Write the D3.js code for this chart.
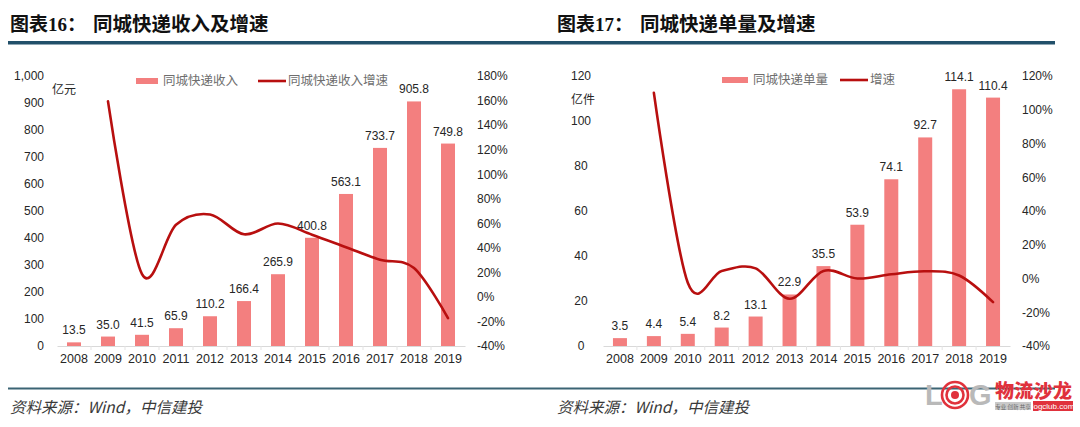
<!DOCTYPE html>
<html><head><meta charset="utf-8">
<script src="https://cdn.jsdelivr.net/npm/d3@7"></script>
<style>
html,body{margin:0;padding:0;background:#fff;}
svg{display:block;}
</style></head>
<body>
<svg id="c" width="1080" height="427"></svg>
<script>
// ---- data ----
const years = ["2008","2009","2010","2011","2012","2013","2014","2015","2016","2017","2018","2019"];
const revenue = [13.5, 35.0, 41.5, 65.9, 110.2, 166.4, 265.9, 400.8, 563.1, 733.7, 905.8, 749.8];
const revenueGrowth = [null, 159.3, 18.6, 58.8, 67.2, 51.0, 59.8, 50.7, 40.5, 30.3, 23.5, -17.2];
const volume = [3.5, 4.4, 5.4, 8.2, 13.1, 22.9, 35.5, 53.9, 74.1, 92.7, 114.1, 110.4];
const volumeGrowth = [null, 110, -2.5, 4.5, 6, -12, 4.5, 0, 2.5, 4.3, 1.8, -14];
const revTicks = [0,100,200,300,400,500,600,700,800,900,1000];
const revPctTicks = [-40,-20,0,20,40,60,80,100,120,140,160,180];
const volTicks = [0,20,40,60,80,100,120];
const volPctTicks = [-40,-20,0,20,40,60,80,100,120];

const BAR = "#F37F7F", LINE = "#B80F0F", TXT = "#262626", LEG = "#6e6e6e";
const NUM = "'Liberation Sans', Arial, sans-serif";
const CJK = "'Noto Sans CJK SC', 'Noto Sans', sans-serif";

const svg = d3.select("#c");

// header & footer rules
svg.append("rect").attr("x",8).attr("y",41).attr("width",1047).attr("height",3.5).attr("fill","#22506a");
svg.append("rect").attr("x",8).attr("y",387.5).attr("width",1047).attr("height",2).attr("fill","#3b6474");

function drawChart(cfg){
  const g = svg.append("g");
  // title
  const t = g.append("text").attr("y",31).attr("font-weight","bold").attr("fill","#111");
  t.append("tspan").attr("x",cfg.titleX).attr("font-family","'Liberation Serif','Noto Sans CJK SC',serif").attr("font-size",19).text(cfg.titleA);
  t.append("tspan").attr("x",cfg.titleX+83).attr("font-family",CJK).attr("font-size",19.5).text(cfg.titleB);
  // footer
  g.append("text").attr("x",cfg.titleX).attr("y",413).attr("font-family",CJK).attr("font-style","italic")
    .attr("font-size",15.5).attr("fill","#3a3a3a").text("资料来源：Wind，中信建投");

  const x = d3.scaleBand().domain(years).range([cfg.x0,cfg.x1]).paddingInner(0).paddingOuter(0);
  const yL = d3.scaleLinear().domain([0,cfg.leftMax]).range([346,cfg.top]);
  const yR = d3.scaleLinear().domain([-40,cfg.rightMax]).range([346,cfg.top]);
  const bw = 14;

  // left ticks
  const la = g.append("g").attr("transform",`translate(${cfg.leftLabelX},0)`)
    .call(d3.axisLeft(yL).tickValues(cfg.leftTicks).tickSize(0).tickPadding(0)
      .tickFormat(d=>d3.format(",")(d)));
  la.select(".domain").remove();
  la.selectAll("text").attr("font-family",NUM).attr("font-size",12).attr("fill",TXT)
    .attr("text-anchor",cfg.leftAnchor).attr("x",0);
  // right ticks
  const ra = g.append("g").attr("transform",`translate(${cfg.rightLabelX},0)`)
    .call(d3.axisRight(yR).tickValues(cfg.rightTicks).tickSize(0).tickPadding(0).tickFormat(d=>d+"%"));
  ra.select(".domain").remove();
  ra.selectAll("text").attr("font-family",NUM).attr("font-size",12).attr("fill",TXT).attr("x",0);

  // unit
  g.append("text").attr("x",cfg.unitX).attr("y",cfg.unitY).attr("dy","0.35em").attr("font-family",CJK)
    .attr("font-size",12).attr("fill",TXT).text(cfg.unit);

  // x axis
  const xa = g.append("g").attr("transform","translate(0,346)")
    .call(d3.axisBottom(x).tickSize(0).tickPadding(8));
  xa.select(".domain").attr("stroke","#d9d9d9").attr("stroke-width",1);
  xa.selectAll("text").attr("font-family",NUM).attr("font-size",12.5).attr("fill",TXT);
  // small separators
  g.selectAll(".sep").data(years.slice(1)).enter().append("line")
    .attr("x1",d=>x(d)).attr("x2",d=>x(d)).attr("y1",346).attr("y2",350)
    .attr("stroke","#e3e3e3").attr("stroke-width",1);

  // bars
  g.selectAll(".bar").data(cfg.bars).enter().append("rect")
    .attr("x",(d,i)=>x(years[i])+x.bandwidth()/2-bw/2)
    .attr("y",d=>yL(d)).attr("width",bw).attr("height",d=>346-yL(d)).attr("fill",BAR);
  // bar labels
  g.selectAll(".bl").data(cfg.bars).enter().append("text")
    .attr("x",(d,i)=>x(years[i])+x.bandwidth()/2)
    .attr("y",d=>yL(d)-8).attr("text-anchor","middle")
    .attr("font-family",NUM).attr("font-size",12).attr("fill",TXT)
    .text(d=>d.toFixed(1));

  // line
  const pts = cfg.growth.map((v,i)=>[x(years[i])+x.bandwidth()/2, v]).filter(p=>p[1]!==null);
  const line = d3.line().x(p=>p[0]).y(p=>yR(p[1])).curve(d3.curveCardinal.tension(0));
  g.append("path").attr("d",line(pts)).attr("fill","none").attr("stroke",LINE)
    .attr("stroke-width",2.6).attr("stroke-linejoin","round").attr("stroke-linecap","round");

  // legend
  const ly = cfg.legY;
  g.append("rect").attr("x",cfg.leg1X).attr("y",ly-3).attr("width",cfg.leg1W).attr("height",6).attr("fill",BAR);
  g.append("text").attr("x",cfg.leg1X+cfg.leg1W+5).attr("y",ly).attr("dy","0.35em").attr("font-family",CJK)
    .attr("font-size",12.5).attr("fill",LEG).text(cfg.leg1);
  g.append("line").attr("x1",cfg.leg2X).attr("x2",cfg.leg2X+28).attr("y1",ly).attr("y2",ly)
    .attr("stroke",LINE).attr("stroke-width",2.6);
  g.append("text").attr("x",cfg.leg2X+30).attr("y",ly).attr("dy","0.35em").attr("font-family",CJK)
    .attr("font-size",12.5).attr("fill",LEG).text(cfg.leg2);
}

drawChart({
  titleX:10, titleA:"图表16：", titleB:"同城快递收入及增速",
  x0:57, x1:465, top:76, leftMax:1000, rightMax:180,
  leftTicks:revTicks, rightTicks:revPctTicks, leftLabelX:44, leftAnchor:"end", rightLabelX:477,
  unit:"亿元", unitX:52, unitY:90,
  bars:revenue, growth:revenueGrowth,
  legY:81, leg1X:136, leg1W:22, leg1:"同城快递收入", leg2X:258, leg2:"同城快递收入增速"
});
drawChart({
  titleX:557, titleA:"图表17：", titleB:"同城快递单量及增速",
  x0:603, x1:1010, top:76, leftMax:120, rightMax:120,
  leftTicks:volTicks, rightTicks:volPctTicks, leftLabelX:581, leftAnchor:"middle", rightLabelX:1022,
  unit:"亿件", unitX:571, unitY:100,
  bars:volume, growth:volumeGrowth,
  legY:80, leg1X:722, leg1W:26, leg1:"同城快递单量", leg2X:840, leg2:"增速"
});

// logo
const lg = svg.append("g");
lg.append("text").attr("x",925).attr("y",405).attr("font-family","'Liberation Sans',Arial,sans-serif")
  .attr("font-weight","bold").attr("font-size",29).attr("fill","#b9b9b9").text("L");
[13,8.5,4].forEach((r,i)=>{
  lg.append("circle").attr("cx",955).attr("cy",395).attr("r",r)
    .attr("fill",i===2?"#e0323c":"none").attr("stroke","#e0323c").attr("stroke-width",i===2?0:2.6);
});
lg.append("text").attr("x",969).attr("y",405).attr("font-family","'Liberation Sans',Arial,sans-serif")
  .attr("font-weight","bold").attr("font-size",29).attr("fill","#b9b9b9").text("G");
lg.append("text").attr("x",995).attr("y",398).attr("font-family",CJK).attr("font-weight","900")
  .attr("font-size",19).attr("fill","#e0323c").attr("textLength",77).text("物流沙龙");
lg.append("rect").attr("x",995).attr("y",402).attr("width",36).attr("height",8).attr("fill","#c9c9c9");
lg.append("text").attr("x",1013).attr("y",408.5).attr("text-anchor","middle").attr("font-family",CJK)
  .attr("font-size",5.5).attr("fill","#666").text("专业 创新 共享");
lg.append("rect").attr("x",1033).attr("y",401).attr("width",40).attr("height",10).attr("fill","#e0323c");
lg.append("text").attr("x",1053).attr("y",409).attr("text-anchor","middle").attr("font-family",NUM)
  .attr("font-size",8).attr("fill","#fff").text("logclub.com");
</script>
</body></html>
